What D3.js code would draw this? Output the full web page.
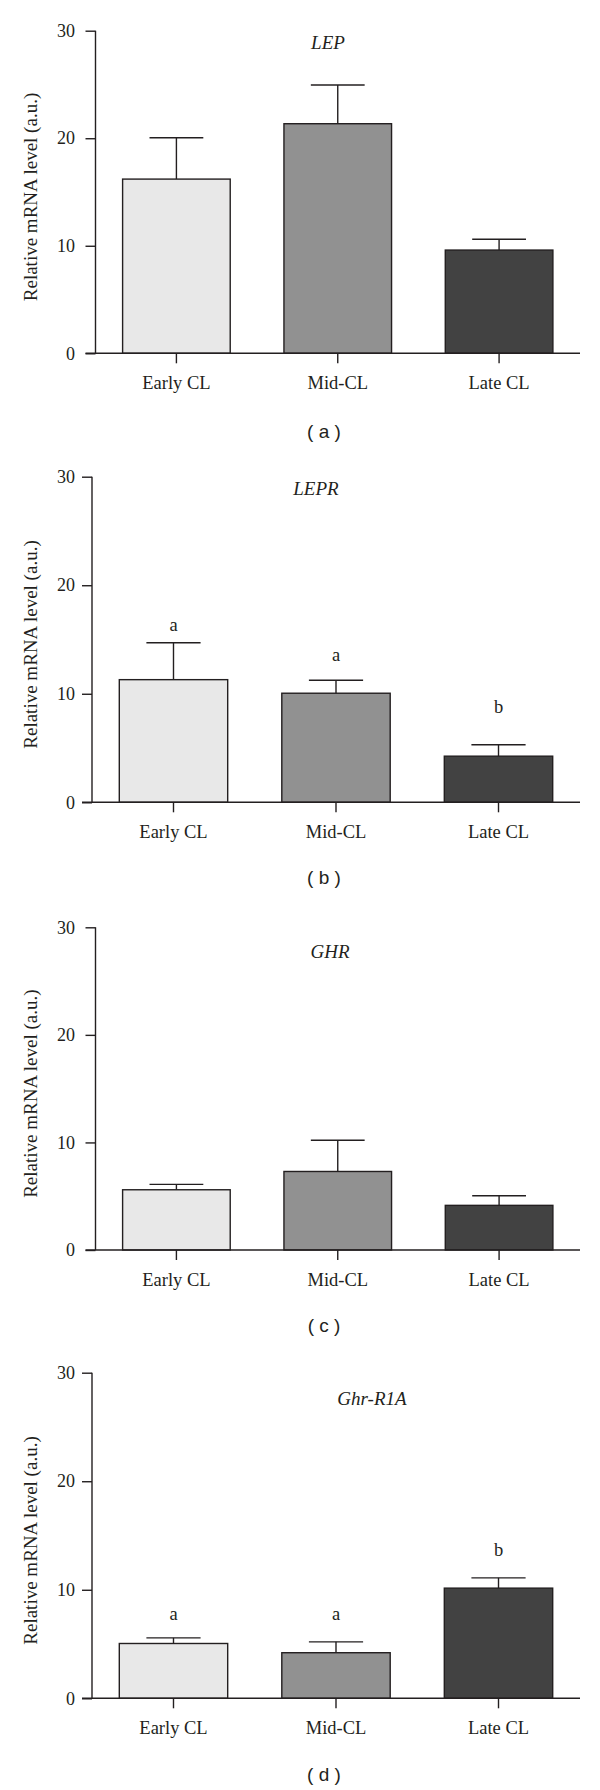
<!DOCTYPE html>
<html>
<head>
<meta charset="utf-8">
<script src="https://cdn.jsdelivr.net/npm/d3@7/dist/d3.min.js"></script>
<style>
  html, body { margin: 0; padding: 0; background: #fff; }
  svg { display: block; }
</style>
</head>
<body>
<script>
// ---- data ----
const categories = ["Early CL", "Mid-CL", "Late CL"];
const genes = ["LEP", "LEPR", "GHR", "Ghr-R1A"];
const panelLabels = ["( a )", "( b )", "( c )", "( d )"];
const yTicks = [0, 10, 20, 30];

const meanLEP  = [16.2, 21.35, 9.6];
const errLEP   = [3.85, 3.6, 1.0];
const meanLEPR = [11.3, 10.05, 4.25];
const errLEPR  = [3.4, 1.2, 1.05];
const meanGHR  = [5.6, 7.3, 4.15];
const errGHR   = [0.5, 2.9, 0.9];
const meanGHRL = [5.05, 4.2, 10.15];
const errGHRL  = [0.52, 1.0, 0.95];

const lettersLEPR = ["a", "a", "b"];
const letterYLEPR = [15.8, 13.0, 8.2];
const lettersGHRL = ["a", "a", "b"];
const letterYGHRL = [7.2, 7.2, 13.1];

const means = [meanLEP, meanLEPR, meanGHR, meanGHRL];
const errs = [errLEP, errLEPR, errGHR, errGHRL];
const letters = [null, lettersLEPR, null, lettersGHRL];
const letterYs = [null, letterYLEPR, null, letterYGHRL];

// ---- layout (pixels) ----
const W = 600, H = 1790;
const layout = [
  { y30: 30.7,  y0: 353.3,  ax: 95.5, tx: 328, ty: 18, cap: 431 },
  { y30: 476.7, y0: 802.3,  ax: 92,   tx: 316, ty: 18, cap: 877 },
  { y30: 927.3, y0: 1250,   ax: 95.5, tx: 330, ty: 31, cap: 1325.5 },
  { y30: 1372.7, y0: 1698.3, ax: 92,  tx: 372, ty: 32, cap: 1774 }
];
const fills = ["#e8e8e8", "#919191", "#424242"];
const ink = "#231f20";
const sw = 1.4;
const serif = "'Liberation Serif', 'Times New Roman', serif";
const sans = "'Liberation Sans', Arial, sans-serif";

const svg = d3.select("body").append("svg")
  .attr("width", W).attr("height", H);

layout.forEach((L, p) => {
  const g = svg.append("g");
  const y = d3.scaleLinear().domain([0, 30]).range([L.y0, L.y30]);
  const x = d3.scaleBand().domain(categories)
    .range([L.ax, 580]).paddingInner(0.333).paddingOuter(0.168);

  const data = categories.map((c, i) => ({ c, m: means[p][i], e: errs[p][i], i }));

  // error bars (upper only)
  const capHalf = x.bandwidth() / 4;
  data.forEach(d => {
    const cx = x(d.c) + x.bandwidth() / 2;
    g.append("line")
      .attr("x1", cx).attr("x2", cx)
      .attr("y1", y(d.m)).attr("y2", y(d.m + d.e))
      .attr("stroke", ink).attr("stroke-width", sw);
    g.append("line")
      .attr("x1", cx - capHalf).attr("x2", cx + capHalf)
      .attr("y1", y(d.m + d.e)).attr("y2", y(d.m + d.e))
      .attr("stroke", ink).attr("stroke-width", sw);
  });

  // bars
  g.selectAll("rect.bar").data(data).enter().append("rect")
    .attr("class", "bar")
    .attr("x", d => x(d.c))
    .attr("width", x.bandwidth())
    .attr("y", d => y(d.m))
    .attr("height", d => y(0) - y(d.m))
    .attr("fill", d => fills[d.i])
    .attr("stroke", ink).attr("stroke-width", sw);

  // y axis
  const yAxis = d3.axisLeft(y).tickValues(yTicks).tickSize(10)
    .tickPadding(L.ax - 10 - 75).tickFormat(d3.format("d"));
  const ya = g.append("g").attr("transform", `translate(${L.ax},0)`).call(yAxis);
  ya.select(".domain").attr("stroke", ink).attr("stroke-width", sw)
    .attr("d", `M0,${L.y30}V${L.y0}`);
  ya.selectAll(".tick line").attr("stroke", ink).attr("stroke-width", sw);
  ya.selectAll(".tick text").attr("fill", ink)
    .style("font-family", serif).style("font-size", "18px");

  // x axis
  const xAxis = d3.axisBottom(x).tickSize(10).tickPadding(13).tickSizeOuter(0);
  const xa = g.append("g").attr("transform", `translate(0,${L.y0})`).call(xAxis);
  xa.select(".domain").attr("stroke", ink).attr("stroke-width", sw)
    .attr("d", `M${L.ax - 10},0H580`);
  xa.selectAll(".tick line").attr("stroke", ink).attr("stroke-width", sw);
  xa.selectAll(".tick text").attr("fill", ink)
    .style("font-family", serif).style("font-size", "18.5px");

  // y label
  g.append("text")
    .attr("transform", `translate(37,${(L.y30 + L.y0) / 2 + 5}) rotate(-90)`)
    .attr("text-anchor", "middle")
    .attr("fill", ink)
    .style("font-family", serif).style("font-size", "19px")
    .text("Relative mRNA level (a.u.)");

  // gene title
  g.append("text")
    .attr("x", L.tx).attr("y", L.y30 + L.ty)
    .attr("text-anchor", "middle")
    .attr("fill", ink)
    .style("font-family", serif).style("font-style", "italic").style("font-size", "19px")
    .text(genes[p]);

  // significance letters
  if (letters[p]) {
    letters[p].forEach((t, i) => {
      g.append("text")
        .attr("x", x(categories[i]) + x.bandwidth() / 2)
        .attr("y", y(letterYs[p][i]))
        .attr("text-anchor", "middle")
        .attr("fill", ink)
        .style("font-family", serif).style("font-size", "18.5px")
        .text(t);
    });
  }

  // panel caption
  g.append("text")
    .attr("x", 324).attr("y", L.cap)
    .attr("dy", "0.35em")
    .attr("text-anchor", "middle")
    .attr("fill", ink)
    .style("font-family", sans).style("font-size", "19px")
    .text(panelLabels[p]);
});
</script>
</body>
</html>
